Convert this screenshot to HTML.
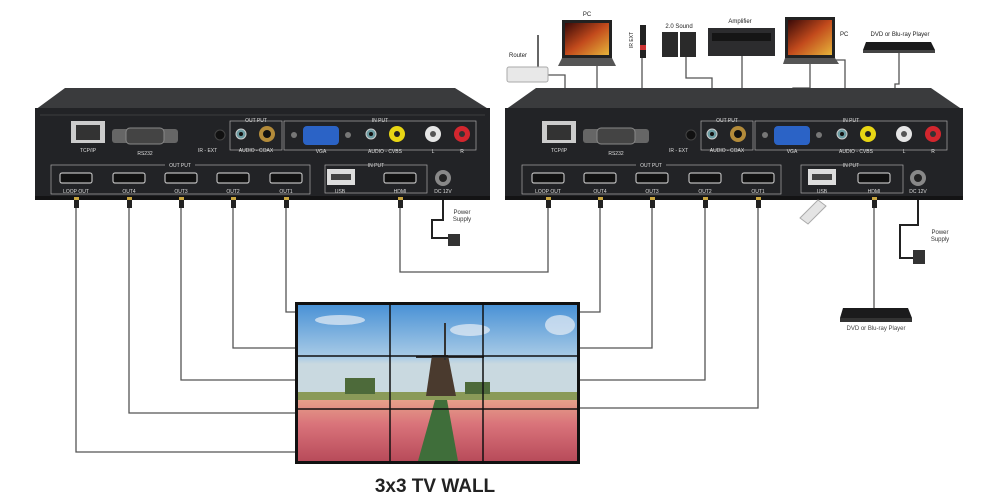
<!DOCTYPE html>
<html><head><meta charset="utf-8"><style>
html,body{margin:0;padding:0;background:#fff;}
svg{display:block;font-family:"Liberation Sans",sans-serif;}
</style></head><body>
<svg width="995" height="503" viewBox="0 0 995 503" xmlns="http://www.w3.org/2000/svg">
<defs>
<linearGradient id="sky" x1="0" y1="0" x2="0" y2="1">
<stop offset="0" stop-color="#4a92d6"/><stop offset="0.55" stop-color="#a9cbe6"/><stop offset="0.62" stop-color="#c9d9e0"/>
</linearGradient>
<linearGradient id="tul" x1="0" y1="0" x2="0" y2="1">
<stop offset="0" stop-color="#e6a08a"/><stop offset="0.4" stop-color="#d9737a"/><stop offset="1" stop-color="#b84b5a"/>
</linearGradient>
<linearGradient id="scr" x1="0" y1="0" x2="1" y2="1">
<stop offset="0" stop-color="#3a0a08"/><stop offset="0.5" stop-color="#c24a1c"/><stop offset="1" stop-color="#e6b43a"/>
</linearGradient>
</defs>

<!-- connectors -->
<g fill="none" stroke="#555" stroke-width="1.3">
<path d="M76 205 V452 H296"/>
<path d="M129 205 V413 H296"/>
<path d="M181 205 V380 H296"/>
<path d="M233 205 V348 H296"/>
<path d="M286 205 V312 H296"/>
<path d="M400 205 V272 H548 V205"/>
<path d="M600 205 V312 H578"/>
<path d="M652 205 V348 H578"/>
<path d="M705 205 V380 H578"/>
<path d="M758 205 V408 H578"/>
<path d="M874 205 V308"/>
<path d="M443 200 V220 H432 V238 H450" stroke="#222" stroke-width="2"/>
<path d="M918 200 V225 H900 V258 H915" stroke="#222" stroke-width="2"/>
<!-- top device lines -->
<path d="M548 75 H565 V95"/>
<path d="M597 66 V90 H620 V96"/>
<path d="M642 58 V90 H690 V110"/>
<path d="M686 57 V78 H712 V120"/>
<path d="M742 56 V120"/>
<path d="M810 60 V88 H793 V120"/>
<path d="M833 60 H845 V120"/>
<path d="M899 52 V84 H895 V120"/>
</g>

<!-- LEFT BOX -->
<g id="box1">
<polygon points="65,88 455,88 490,110 35,110" fill="#3a3b3d"/>
<rect x="35" y="108" width="455" height="92" fill="#222326"/>
<rect x="35" y="196" width="455" height="4" fill="#131314"/>
<line x1="40" y1="115" x2="485" y2="115" stroke="#3c3c3e"/>
<!-- TCP/IP -->
<rect x="71" y="121" width="34" height="22" fill="#ccc"/><rect x="76" y="125" width="24" height="15" fill="#333"/>
<text x="88" y="152" font-size="5" fill="#ddd" text-anchor="middle">TCP/IP</text>
<!-- RS232 -->
<rect x="112" y="129" width="66" height="14" rx="3" fill="#666"/><rect x="126" y="128" width="38" height="16" rx="4" fill="#444" stroke="#888"/>
<text x="145" y="155" font-size="5" fill="#ddd" text-anchor="middle">RS232</text>
<circle cx="220" cy="135" r="5" fill="#111" stroke="#444"/>
<!-- output audio box -->
<rect x="230" y="121" width="52" height="29" fill="none" stroke="#aaa" stroke-width="0.7"/>
<text x="256" y="122" font-size="5" fill="#ddd" text-anchor="middle">OUT PUT</text>
<circle cx="241" cy="134" r="5" fill="#6a9aa0" stroke="#ccc"/><circle cx="241" cy="134" r="2" fill="#111"/>
<circle cx="267" cy="134" r="8" fill="#b38b3a"/><circle cx="267" cy="134" r="4" fill="#111"/>
<text x="198" y="152" font-size="5" fill="#ddd">IR - EXT</text>
<text x="256" y="152" font-size="5" fill="#ddd" text-anchor="middle">AUDIO - COAX</text>
<!-- input box -->
<rect x="284" y="121" width="192" height="29" fill="none" stroke="#aaa" stroke-width="0.7"/>
<text x="380" y="122" font-size="5" fill="#ddd" text-anchor="middle">IN PUT</text>
<circle cx="294" cy="135" r="3" fill="#777"/><circle cx="348" cy="135" r="3" fill="#777"/>
<rect x="303" y="126" width="36" height="19" rx="4" fill="#2b63c6"/>
<circle cx="371" cy="134" r="5" fill="#6a9aa0" stroke="#ccc"/><circle cx="371" cy="134" r="2" fill="#111"/>
<circle cx="397" cy="134" r="8" fill="#e8d614"/><circle cx="397" cy="134" r="3" fill="#222"/>
<circle cx="433" cy="134" r="8" fill="#e6e6e6"/><circle cx="433" cy="134" r="3" fill="#555"/>
<circle cx="462" cy="134" r="8" fill="#d3262e"/><circle cx="462" cy="134" r="3" fill="#333"/>
<text x="321" y="153" font-size="5" fill="#ddd" text-anchor="middle">VGA</text>
<text x="385" y="153" font-size="5" fill="#ddd" text-anchor="middle">AUDIO - CVBS</text>
<text x="433" y="153" font-size="5" fill="#ddd" text-anchor="middle">L</text>
<text x="462" y="153" font-size="5" fill="#ddd" text-anchor="middle">R</text>
<!-- output HDMI -->
<rect x="51" y="165" width="259" height="29" fill="none" stroke="#aaa" stroke-width="0.7"/>
<rect x="165" y="161" width="30" height="7" fill="#222326"/>
<text x="180" y="167" font-size="5" fill="#ddd" text-anchor="middle">OUT PUT</text>
<g fill="#111" stroke="#bbb" stroke-width="1.2">
<rect x="60" y="173" width="32" height="10" rx="2"/><rect x="113" y="173" width="32" height="10" rx="2"/>
<rect x="165" y="173" width="32" height="10" rx="2"/><rect x="217" y="173" width="32" height="10" rx="2"/>
<rect x="270" y="173" width="32" height="10" rx="2"/><rect x="384" y="173" width="32" height="10" rx="2"/>
</g>
<g font-size="5" fill="#ddd" text-anchor="middle">
<text x="76" y="193">LOOP OUT</text><text x="129" y="193">OUT4</text><text x="181" y="193">OUT3</text><text x="233" y="193">OUT2</text><text x="286" y="193">OUT1</text>
<text x="340" y="193">USB</text><text x="400" y="193">HDMI</text><text x="443" y="193">DC 12V</text>
<text x="376" y="167">IN PUT</text>
</g>
<rect x="325" y="165" width="102" height="28" fill="none" stroke="#aaa" stroke-width="0.7"/>
<rect x="327" y="169" width="28" height="16" fill="#ddd"/><rect x="331" y="174" width="20" height="6" fill="#444"/>
<circle cx="443" cy="178" r="8" fill="#888"/><circle cx="443" cy="178" r="4" fill="#222"/>
<!-- plugs -->
<g fill="#222"><rect x="74" y="198" width="5" height="10"/><rect x="127" y="198" width="5" height="10"/><rect x="179" y="198" width="5" height="10"/><rect x="231" y="198" width="5" height="10"/><rect x="284" y="198" width="5" height="10"/><rect x="398" y="198" width="5" height="10"/></g>
<g fill="#c9a640"><rect x="74" y="197" width="5" height="3"/><rect x="127" y="197" width="5" height="3"/><rect x="179" y="197" width="5" height="3"/><rect x="231" y="197" width="5" height="3"/><rect x="284" y="197" width="5" height="3"/><rect x="398" y="197" width="5" height="3"/></g>
</g>
<!-- left power -->
<rect x="448" y="234" width="12" height="12" fill="#333"/>
<text x="462" y="214" font-size="6" fill="#333" text-anchor="middle">Power</text>
<text x="462" y="221" font-size="6" fill="#333" text-anchor="middle">Supply</text>

<!-- RIGHT BOX -->
<g transform="translate(471,0)">
<polygon points="65,88 460,88 492,110 34,110" fill="#3a3b3d"/>
<rect x="34" y="108" width="458" height="92" fill="#222326"/>
<rect x="34" y="196" width="458" height="4" fill="#131314"/>
<rect x="71" y="121" width="34" height="22" fill="#ccc"/><rect x="76" y="125" width="24" height="15" fill="#333"/>
<text x="88" y="152" font-size="5" fill="#ddd" text-anchor="middle">TCP/IP</text>
<rect x="112" y="129" width="66" height="14" rx="3" fill="#666"/><rect x="126" y="128" width="38" height="16" rx="4" fill="#444" stroke="#888"/>
<text x="145" y="155" font-size="5" fill="#ddd" text-anchor="middle">RS232</text>
<circle cx="220" cy="135" r="5" fill="#111" stroke="#444"/>
<rect x="230" y="121" width="52" height="29" fill="none" stroke="#aaa" stroke-width="0.7"/>
<text x="256" y="122" font-size="5" fill="#ddd" text-anchor="middle">OUT PUT</text>
<circle cx="241" cy="134" r="5" fill="#6a9aa0" stroke="#ccc"/><circle cx="241" cy="134" r="2" fill="#111"/>
<circle cx="267" cy="134" r="8" fill="#b38b3a"/><circle cx="267" cy="134" r="4" fill="#111"/>
<text x="198" y="152" font-size="5" fill="#ddd">IR - EXT</text>
<text x="256" y="152" font-size="5" fill="#ddd" text-anchor="middle">AUDIO - COAX</text>
<rect x="284" y="121" width="192" height="29" fill="none" stroke="#aaa" stroke-width="0.7"/>
<text x="380" y="122" font-size="5" fill="#ddd" text-anchor="middle">IN PUT</text>
<circle cx="294" cy="135" r="3" fill="#777"/><circle cx="348" cy="135" r="3" fill="#777"/>
<rect x="303" y="126" width="36" height="19" rx="4" fill="#2b63c6"/>
<circle cx="371" cy="134" r="5" fill="#6a9aa0" stroke="#ccc"/><circle cx="371" cy="134" r="2" fill="#111"/>
<circle cx="397" cy="134" r="8" fill="#e8d614"/><circle cx="397" cy="134" r="3" fill="#222"/>
<circle cx="433" cy="134" r="8" fill="#e6e6e6"/><circle cx="433" cy="134" r="3" fill="#555"/>
<circle cx="462" cy="134" r="8" fill="#d3262e"/><circle cx="462" cy="134" r="3" fill="#333"/>
<text x="321" y="153" font-size="5" fill="#ddd" text-anchor="middle">VGA</text>
<text x="385" y="153" font-size="5" fill="#ddd" text-anchor="middle">AUDIO - CVBS</text>
<text x="433" y="153" font-size="5" fill="#ddd" text-anchor="middle">L</text>
<text x="462" y="153" font-size="5" fill="#ddd" text-anchor="middle">R</text>
<rect x="51" y="165" width="259" height="29" fill="none" stroke="#aaa" stroke-width="0.7"/>
<rect x="165" y="161" width="30" height="7" fill="#222326"/>
<text x="180" y="167" font-size="5" fill="#ddd" text-anchor="middle">OUT PUT</text>
<g fill="#111" stroke="#bbb" stroke-width="1.2">
<rect x="61" y="173" width="32" height="10" rx="2"/><rect x="113" y="173" width="32" height="10" rx="2"/>
<rect x="165" y="173" width="32" height="10" rx="2"/><rect x="218" y="173" width="32" height="10" rx="2"/>
<rect x="271" y="173" width="32" height="10" rx="2"/><rect x="387" y="173" width="32" height="10" rx="2"/>
</g>
<g font-size="5" fill="#ddd" text-anchor="middle">
<text x="77" y="193">LOOP OUT</text><text x="129" y="193">OUT4</text><text x="181" y="193">OUT3</text><text x="234" y="193">OUT2</text><text x="287" y="193">OUT1</text>
<text x="351" y="193">USB</text><text x="403" y="193">HDMI</text><text x="447" y="193">DC 12V</text>
<text x="380" y="167">IN PUT</text>
</g>
<rect x="330" y="165" width="102" height="28" fill="none" stroke="#aaa" stroke-width="0.7"/>
<rect x="337" y="169" width="28" height="16" fill="#ddd"/><rect x="341" y="174" width="20" height="6" fill="#444"/>
<circle cx="447" cy="178" r="8" fill="#888"/><circle cx="447" cy="178" r="4" fill="#222"/>
<g fill="#222"><rect x="75" y="198" width="5" height="10"/><rect x="127" y="198" width="5" height="10"/><rect x="179" y="198" width="5" height="10"/><rect x="232" y="198" width="5" height="10"/><rect x="285" y="198" width="5" height="10"/><rect x="401" y="198" width="5" height="10"/></g>
<g fill="#c9a640"><rect x="75" y="197" width="5" height="3"/><rect x="127" y="197" width="5" height="3"/><rect x="179" y="197" width="5" height="3"/><rect x="232" y="197" width="5" height="3"/><rect x="285" y="197" width="5" height="3"/><rect x="401" y="197" width="5" height="3"/></g>
</g>
<!-- usb stick -->
<polygon points="800,218 818,200 826,206 808,224" fill="#e4e4e4" stroke="#aaa"/>
<!-- right power -->
<rect x="913" y="250" width="12" height="14" fill="#333"/>
<text x="940" y="234" font-size="6" fill="#333" text-anchor="middle">Power</text>
<text x="940" y="241" font-size="6" fill="#333" text-anchor="middle">Supply</text>
<!-- dvd bottom -->
<polygon points="843,308 908,308 912,318 840,318" fill="#1b1b1c"/><rect x="840" y="318" width="72" height="4" fill="#333"/>
<text x="876" y="330" font-size="6" fill="#444" text-anchor="middle">DVD or Blu-ray Player</text>

<!-- top devices -->
<text x="518" y="57" font-size="6" fill="#222" text-anchor="middle">Router</text>
<line x1="538" y1="35" x2="538" y2="68" stroke="#333" stroke-width="1.5"/>
<rect x="507" y="67" width="41" height="15" rx="2" fill="#e8e8e8" stroke="#aaa"/>
<text x="587" y="16" font-size="6" fill="#222" text-anchor="middle">PC</text>
<rect x="562" y="20" width="50" height="38" fill="#222"/><rect x="565" y="23" width="44" height="32" fill="url(#scr)"/>
<polygon points="562,58 612,58 616,66 558,66" fill="#555"/>
<rect x="640" y="25" width="6" height="33" fill="#222"/><rect x="640" y="45" width="6" height="5" fill="#c33"/>
<text x="633" y="40" font-size="5" fill="#222" transform="rotate(-90 633 40)" text-anchor="middle">IR EXT</text>
<text x="679" y="28" font-size="6" fill="#222" text-anchor="middle">2.0 Sound</text>
<rect x="662" y="32" width="16" height="25" fill="#2a2a2a"/><rect x="680" y="32" width="16" height="25" fill="#2a2a2a"/>
<text x="740" y="23" font-size="6" fill="#222" text-anchor="middle">Amplifier</text>
<rect x="708" y="28" width="67" height="28" fill="#2c2c2e"/><rect x="712" y="33" width="59" height="8" fill="#151515"/>
<rect x="785" y="17" width="50" height="41" fill="#222"/><rect x="788" y="20" width="44" height="35" fill="url(#scr)"/>
<polygon points="785,58 835,58 839,64 783,64" fill="#555"/>
<text x="840" y="36" font-size="6" fill="#222">PC</text>
<text x="900" y="36" font-size="6" fill="#222" text-anchor="middle">DVD or Blu-ray Player</text>
<polygon points="866,42 931,42 935,50 863,50" fill="#1b1b1c"/><rect x="863" y="50" width="72" height="3" fill="#444"/>

<!-- TV wall -->
<rect x="295" y="302" width="285" height="162" fill="#111"/>
<rect x="298" y="305" width="279" height="95" fill="url(#sky)"/>
<rect x="298" y="392" width="279" height="8" fill="#8a9a58"/>
<rect x="298" y="400" width="279" height="61" fill="url(#tul)"/>
<polygon points="435,400 447,400 458,461 418,461" fill="#3f6e3a"/>
<polygon points="432,355 448,355 456,396 426,396" fill="#4a3a2e"/>
<line x1="416" y1="357" x2="484" y2="357" stroke="#333" stroke-width="2"/>
<line x1="445" y1="323" x2="445" y2="360" stroke="#333" stroke-width="2"/>
<rect x="345" y="378" width="30" height="16" fill="#4d6a3a"/><rect x="465" y="382" width="25" height="12" fill="#4d6a3a"/>
<ellipse cx="340" cy="320" rx="25" ry="5" fill="#e8eef5" opacity="0.7"/><ellipse cx="470" cy="330" rx="20" ry="6" fill="#e8eef5" opacity="0.7"/><ellipse cx="560" cy="325" rx="15" ry="10" fill="#e8eef5" opacity="0.7"/>
<g stroke="#111" stroke-width="1.5"><line x1="390" y1="302" x2="390" y2="464"/><line x1="483" y1="302" x2="483" y2="464"/><line x1="295" y1="356" x2="580" y2="356"/><line x1="295" y1="409" x2="580" y2="409"/></g>

<text x="435" y="492" font-size="19" font-weight="bold" fill="#222" text-anchor="middle">3x3 TV  WALL</text>
</svg>
</body></html>
